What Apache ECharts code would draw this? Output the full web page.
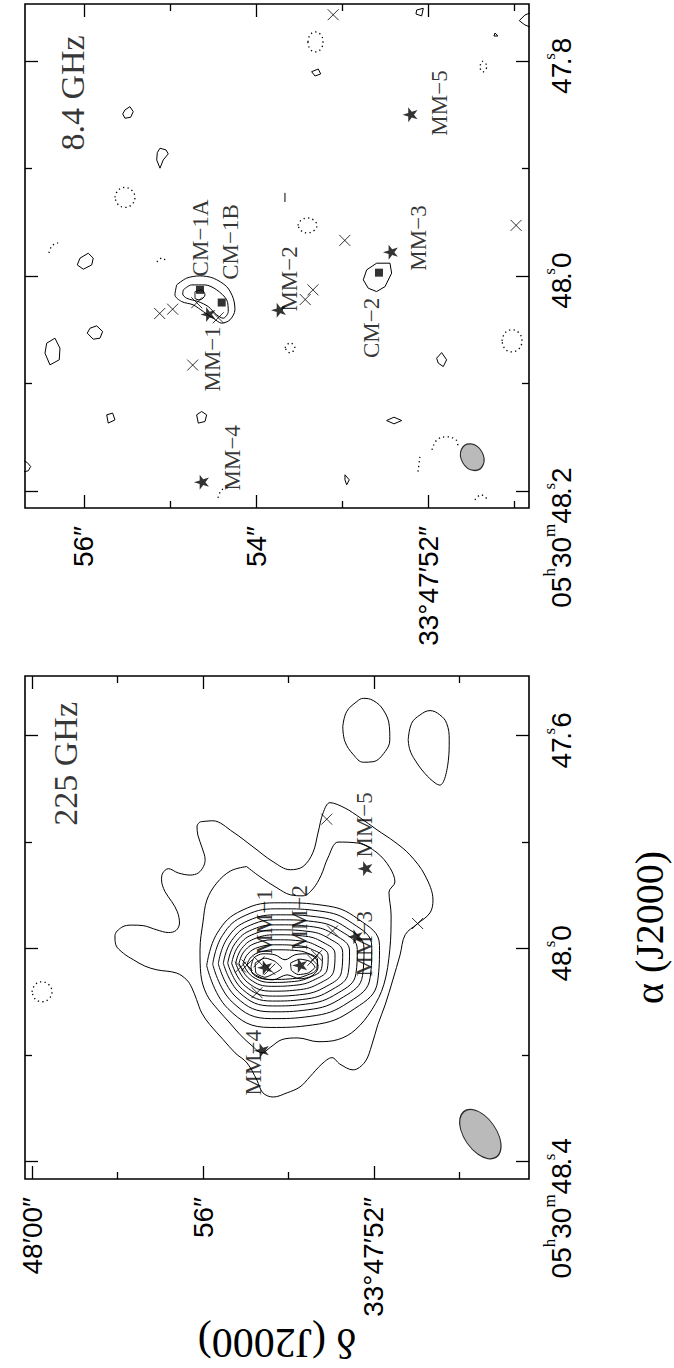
<!DOCTYPE html>
<html>
<head>
<meta charset="utf-8">
<script src="https://cdn.jsdelivr.net/npm/echarts@6/dist/echarts.min.js"></script>
<style>
html, body { margin: 0; padding: 0; background: #fff; }
#chart { width: 674px; height: 1368px; }
</style>
</head>
<body>
<div id="chart"></div>
<script>
// Coordinates: [declination arcsec after 33°47′, right ascension seconds after 05h30m]

// Axis extents of the two maps
const decRange84 = [50.830, 56.685];
const raRange84 = [47.747, 48.216];
const decRange225 = [48.374, 60.164];
const raRange225 = [47.488, 48.433];

// Ticks and tick labels
const decMajor84 = [52, 54, 56];
const decMinor84 = [51, 53, 55];
const decText84 = ['33°47′52″', '54″', '56″'];
const raMajor84 = [47.8, 48.0, 48.2];
const raMinor84 = [47.9, 48.1];
const raText84 = ['47.8', '48.0', '05:30:48.2'];

const decMajor225 = [52, 56, 60];
const decMinor225 = [50, 54, 58];
const decText225 = ['33°47′52″', '56″', '48′00″'];
const raMajor225 = [47.6, 48.0, 48.4];
const raMinor225 = [47.8, 48.2];
const raText225 = ['47.6', '48.0', '05:30:48.4'];

// Sources
const mmNames = ['MM−1', 'MM−2', 'MM−3', 'MM−4', 'MM−5'];
const mmPos = [[54.56, 48.036], [53.74, 48.032], [52.44, 47.978], [54.635, 48.192], [52.212, 47.850]];
const crossPos = [[53.105, 47.757], [55.12, 48.035], [54.97, 48.031], [54.737, 48.083], [54.69, 48.025],
                  [54.44, 48.039], [53.43, 48.022], [53.34, 48.013], [52.97, 47.967], [50.98, 47.953]];
const cmNames = ['CM−1A', 'CM−1B', 'CM−2'];
const cmPos = [[54.652, 48.013], [54.400, 48.0248], [52.573, 47.997]];

// Text annotations [text, dec, ra]
const title84 = ['8.4 GHz', 56.128, 47.8298];
const title225 = ['225 GHz', 59.205, 47.6531];
const notes84 = [['CM−1A', 54.652, 47.9647], ['CM−1B', 54.292, 47.9684], ['MM−1', 54.501, 48.0772],
                 ['MM−2', 53.618, 48.0028], ['MM−3', 52.108, 47.9647], ['MM−4', 54.269, 48.1693],
                 ['MM−5', 51.864, 47.8391], ['CM−2', 52.654, 48.0484]];
const notes225 = [['MM−1', 54.550, 47.9497], ['MM−2', 53.731, 47.9422], ['MM−3', 52.211, 47.9911],
                  ['MM−4', 54.830, 48.2147], ['MM−5', 52.211, 47.7677]];

// Synthesized beams
const beam84 = [51.489, 48.1687];
const beam225 = [49.513, 48.3487];

// 8.4 GHz positive contours (closed)
const cm1Outer = [[54.923,48.0084],[54.807,48.0021],[54.652,48.0000],[54.498,48.0021],[54.342,48.0100],[54.266,48.0208],[54.246,48.0316],[54.304,48.0409],[54.400,48.0440],[54.498,48.0394],[54.614,48.0332],[54.730,48.0270],[54.865,48.0239],[54.943,48.0177]];
const cm1Inner = [[54.846,48.0130],[54.749,48.0084],[54.594,48.0084],[54.458,48.0130],[54.342,48.0223],[54.324,48.0332],[54.382,48.0394],[54.458,48.0363],[54.556,48.0286],[54.672,48.0239],[54.807,48.0208],[54.853,48.0168]];
const cm1Core = [[54.710,48.0146],[54.633,48.0130],[54.594,48.0177],[54.652,48.0223],[54.710,48.0208]];
const cm2Ring = [[52.716,47.9944],[52.600,47.9882],[52.445,47.9882],[52.426,47.9975],[52.503,48.0100],[52.600,48.0146],[52.697,48.0115],[52.755,48.0037]];
const spot84a = [[55.524,47.8456],[55.466,47.8425],[55.427,47.8472],[55.458,47.8524],[55.524,47.8533],[55.550,47.8493]];
const spot84b = [[55.117,47.8812],[55.047,47.8828],[55.021,47.8865],[55.079,47.8921],[55.117,47.8998],[55.155,47.8921],[55.148,47.8853]];
const spot84c = [[56.046,47.9835],[55.950,47.9789],[55.892,47.9835],[55.910,47.9898],[56.008,47.9938],[56.078,47.9898]];
const spot84d = [[55.930,48.0487],[55.852,48.0465],[55.783,48.0518],[55.814,48.0580],[55.892,48.0589],[55.962,48.0533]];
const spot84e = [[56.433,48.0626],[56.337,48.0580],[56.279,48.0673],[56.287,48.0781],[56.395,48.0828],[56.453,48.0719]];
const spot84f = [[53.355,47.8100],[53.278,47.8075],[53.250,47.8121],[53.316,47.8140]];
const spot84h = [[55.736,48.1293],[55.667,48.1277],[55.640,48.1340],[55.718,48.1370]];
const spot84i = [[54.691,48.1293],[54.633,48.1262],[54.575,48.1293],[54.594,48.1355],[54.672,48.1370]];
const spot84l = [[51.903,48.0766],[51.845,48.0714],[51.787,48.0781],[51.826,48.0844],[51.884,48.0812]];
const spot84m = [[52.484,48.1346],[52.399,48.1315],[52.309,48.1346],[52.399,48.1377]];
const spot84n = [[52.968,48.1851],[52.918,48.1898],[52.948,48.1944],[52.968,48.1898]];
const spot84o = [[52.135,47.7526],[52.058,47.7510],[52.077,47.7581],[52.143,47.7563]];
const spot84p = [[51.225,47.7740],[51.191,47.7768],[51.237,47.7768]];
// 8.4 GHz positive contour pieces cut by the frame (open)
const arc84g = [[53.665,47.9228],[53.665,47.9312]];
const arc84j = [[56.697,48.1721],[56.659,48.1737],[56.619,48.1774],[56.647,48.1814],[56.697,48.1823]];
const arc84o = [[50.819,47.7554],[50.877,47.7572],[50.943,47.7625],[50.877,47.7665],[50.819,47.7684]];
// 8.4 GHz negative contours
const neg84a = [[53.398,47.7823],[53.375,47.7758],[53.311,47.7730],[53.247,47.7758],[53.223,47.7823],[53.247,47.7888],[53.311,47.7916],[53.375,47.7888]];
const neg84b = [[55.640,47.9270],[55.605,47.9205],[55.524,47.9177],[55.442,47.9205],[55.408,47.9270],[55.442,47.9335],[55.524,47.9363],[55.605,47.9335]];
const neg84c = [[53.514,47.9530],[53.481,47.9484],[53.404,47.9461],[53.326,47.9484],[53.293,47.9530],[53.326,47.9577],[53.404,47.9600],[53.481,47.9577]];
const neg84d = [[53.665,48.0670],[53.607,48.0623],[53.549,48.0670],[53.607,48.0716]];
const neg84e = [[51.144,48.0605],[51.109,48.0530],[51.028,48.0502],[50.947,48.0530],[50.912,48.0605],[50.947,48.0679],[51.028,48.0707],[51.109,48.0679]];
const neg84f = [[51.376,47.8000],[51.318,47.8047],[51.365,47.8102],[51.400,47.8056]];
const negArc84a = [[56.407,47.9786],[56.370,47.9720],[56.300,47.9693]];
const negArc84b = [[55.152,47.9870],[55.094,47.9833],[55.036,47.9870]];
const negArc84c = [[54.443,48.2065],[54.397,48.1991],[54.304,48.1972]];
const negArc84d = [[51.957,48.1619],[51.899,48.1526],[51.783,48.1498],[51.678,48.1526],[51.655,48.1591]];
const negArc84e = [[52.097,48.1684],[52.120,48.1824]];
const negArc84f = [[51.458,48.2084],[51.388,48.2037],[51.307,48.2084]];

// 225 GHz contours, lowest level first
const lev1 = [[56.07,47.762],[55.77,47.760],[55.30,47.781],[54.83,47.809],[54.36,47.837],[53.96,47.852],[53.66,47.846],[53.43,47.820],[53.31,47.783],[53.19,47.745],[53.03,47.726],[52.68,47.736],[52.33,47.754],[51.93,47.777],[51.51,47.800],[51.16,47.824],[50.81,47.862],[50.62,47.909],[50.69,47.933],[50.99,47.954],[51.27,47.974],[51.39,48.012],[51.56,48.059],[51.74,48.106],[51.91,48.143],[52.05,48.181],[52.21,48.213],[52.49,48.228],[52.80,48.217],[52.98,48.205],[53.22,48.217],[53.50,48.241],[53.73,48.260],[54.03,48.271],[54.36,48.279],[54.60,48.271],[54.74,48.247],[54.97,48.215],[55.25,48.196],[55.53,48.171],[55.84,48.143],[56.03,48.121],[56.15,48.096],[56.26,48.074],[56.38,48.059],[56.62,48.046],[57.08,48.040],[57.36,48.033],[57.63,48.021],[57.86,48.009],[58.04,47.993],[58.06,47.976],[57.90,47.960],[57.67,47.956],[57.40,47.957],[57.08,47.965],[56.81,47.970],[56.63,47.966],[56.55,47.952],[56.60,47.931],[56.73,47.912],[56.89,47.893],[56.97,47.871],[56.94,47.858],[56.81,47.850],[56.58,47.858],[56.30,47.862],[56.11,47.858],[55.99,47.846],[55.95,47.833],[56.02,47.811],[56.12,47.787],[56.14,47.770]];
const lev2 = [[54.98,47.846],[54.67,47.865],[54.27,47.886],[53.96,47.899],[53.66,47.901],[53.43,47.888],[53.24,47.863],[53.08,47.830],[52.84,47.800],[52.37,47.802],[51.93,47.820],[51.63,47.848],[51.51,47.875],[51.65,47.894],[51.60,47.937],[51.63,48.002],[51.77,48.068],[52.05,48.115],[52.44,48.153],[52.84,48.171],[53.31,48.175],[53.78,48.168],[54.15,48.171],[54.43,48.186],[54.62,48.196],[54.85,48.183],[55.13,48.162],[55.37,48.140],[55.65,48.115],[55.91,48.087],[56.05,48.049],[56.07,48.002],[56.00,47.950],[55.91,47.909],[55.68,47.877],[55.35,47.854]];
const lev3 = [[55.913,48.0324],[55.666,47.9709],[55.088,47.9283],[54.181,47.9141],[53.191,47.9188],[52.366,47.9449],[51.871,47.9945],[51.913,48.0608],[52.449,48.1128],[53.439,48.1436],[54.428,48.1483],[55.418,48.1128]];
const lev4 = [[55.773,48.0296],[55.545,47.9754],[55.014,47.9379],[54.178,47.9254],[53.267,47.9296],[52.508,47.9525],[52.052,47.9963],[52.090,48.0546],[52.584,48.1005],[53.495,48.1275],[54.406,48.1317],[55.317,48.1005]];
const lev5 = [[55.642,48.0287],[55.433,47.9809],[54.946,47.9477],[54.181,47.9367],[53.347,47.9404],[52.651,47.9606],[52.234,47.9993],[52.268,48.0508],[52.720,48.0913],[53.555,48.1152],[54.390,48.1189],[55.225,48.0913]];
const lev6 = [[55.525,48.0278],[55.333,47.9853],[54.885,47.9559],[54.182,47.9461],[53.414,47.9494],[52.775,47.9673],[52.391,48.0017],[52.423,48.0474],[52.839,48.0834],[53.606,48.1046],[54.374,48.1079],[55.141,48.0834]];
const lev7 = [[55.422,48.0278],[55.248,47.9902],[54.840,47.9642],[54.201,47.9555],[53.503,47.9584],[52.921,47.9743],[52.572,48.0047],[52.601,48.0452],[52.979,48.0770],[53.677,48.0958],[54.375,48.0987],[55.073,48.0770]];
const lev8 = [[55.329,48.0278],[55.170,47.9951],[54.799,47.9724],[54.216,47.9649],[53.580,47.9674],[53.050,47.9813],[52.732,48.0077],[52.758,48.0429],[53.103,48.0706],[53.739,48.0869],[54.375,48.0894],[55.011,48.0706]];
const lev9 = [[55.235,48.0277],[55.093,47.9999],[54.761,47.9806],[54.240,47.9742],[53.671,47.9763],[53.197,47.9881],[52.912,48.0106],[52.936,48.0405],[53.244,48.0641],[53.813,48.0780],[54.382,48.0801],[54.951,48.0641]];
const lev10 = [[55.158,48.0278],[55.030,48.0048],[54.732,47.9889],[54.264,47.9836],[53.753,47.9854],[53.327,47.9951],[53.072,48.0136],[53.093,48.0383],[53.370,48.0578],[53.881,48.0693],[54.392,48.0710],[54.903,48.0578]];
const lev11 = [[55.064,48.0287],[54.950,48.0101],[54.685,47.9973],[54.268,47.9930],[53.813,47.9944],[53.434,48.0023],[53.207,48.0173],[53.226,48.0373],[53.472,48.0530],[53.927,48.0623],[54.382,48.0637],[54.837,48.0530]];
const lev12 = [[54.971,48.0306],[54.870,48.0159],[54.634,48.0058],[54.264,48.0024],[53.860,48.0035],[53.523,48.0097],[53.321,48.0215],[53.338,48.0373],[53.556,48.0497],[53.961,48.0570],[54.365,48.0581],[54.769,48.0497]];
const lev13 = [[54.877,48.0344],[54.807,48.0175],[54.596,48.0099],[54.316,48.0118],[54.082,48.0212],[53.848,48.0118],[53.567,48.0099],[53.357,48.0193],[53.310,48.0362],[53.450,48.0512],[53.731,48.0569],[54.035,48.0494],[54.362,48.0588],[54.690,48.0550],[54.854,48.0456]];
const peakMM1 = [[54.78,48.027],[54.55,48.018],[54.32,48.024],[54.16,48.037],[54.32,48.046],[54.55,48.054],[54.76,48.046]];
const peakMM2 = [[53.95,48.027],[53.73,48.020],[53.50,48.024],[53.38,48.035],[53.54,48.046],[53.77,48.049],[53.93,48.041]];
const islandA = [[52.73,47.583],[52.64,47.555],[52.40,47.536],[52.25,47.530],[52.02,47.534],[51.78,47.552],[51.64,47.583],[51.63,47.608],[51.74,47.630],[52.02,47.649],[52.25,47.650],[52.48,47.636],[52.68,47.611]];
const islandB = [[51.20,47.608],[51.12,47.577],[50.92,47.561],[50.69,47.553],[50.46,47.561],[50.30,47.577],[50.24,47.608],[50.26,47.646],[50.46,47.693],[50.57,47.689],[50.81,47.671],[51.04,47.646],[51.16,47.627]];
const neg225 = [[60.000,48.0813],[59.930,48.0681],[59.766,48.0625],[59.603,48.0681],[59.532,48.0813],[59.603,48.0944],[59.766,48.1000],[59.930,48.0944]];

// ---------- helpers ----------
const FONT_SANS = '"Liberation Sans", Arial, sans-serif';
const FONT_SERIF = '"Liberation Serif", "Times New Roman", serif';
const STAR = 'path://M50,2 L61.2,36.2 L97.6,36.2 L68.2,57.4 L79.4,91.8 L50,70.6 L20.6,91.8 L31.8,57.4 L2.4,36.2 L38.8,36.2 Z';
const CROSS = 'path://M0,0 L10,10 M10,0 L0,10';

const measureCtx = document.createElement('canvas').getContext('2d');
function textWidth(t, size, family) {
  measureCtx.font = size + 'px ' + family;
  return measureCtx.measureText(t).width;
}

// Sexagesimal RA labels: superscript unit letters, the seconds mark sitting over the point,
// and the tick placed near the seconds mark.
function raLabelSet(values, texts) {
  const rich = {
    n: { fontFamily: FONT_SANS, fontSize: 28, lineHeight: 34, verticalAlign: 'bottom', color: '#000' },
    d: { fontFamily: FONT_SANS, fontSize: 28, lineHeight: 34, verticalAlign: 'bottom', width: 3, color: '#000' },
    u: { fontFamily: FONT_SERIF, fontSize: 17, lineHeight: 17, verticalAlign: 'top', color: '#000' }
  };
  const out = [];
  texts.forEach(function (lab, i) {
    const parts = lab.split(':');
    const last = parts[parts.length - 1].split('.');
    const units = ['h', 'm'];
    let s = '', lead = 0;
    for (let k = 0; k < parts.length - 1; k++) {
      s += '{n|' + parts[k] + '}{u|' + units[k] + '}';
      lead += textWidth(parts[k], 28, FONT_SANS) + textWidth(units[k], 17, FONT_SERIF);
    }
    s += '{n|' + last[0] + '}{d|.}{u|s}{n|' + last[1] + '}';
    lead += textWidth(last[0], 28, FONT_SANS);
    const pad = Math.max(0, lead - textWidth(last[1], 28, FONT_SANS) - 6);
    rich['p' + i] = { width: pad, fontSize: 28, lineHeight: 34 };
    s += '{p' + i + '| }';
    out.push(s);
  });
  return {
    rich: rich,
    formatter: function (v) {
      const i = values.findIndex(function (t) { return Math.abs(t - v) < 1e-6; });
      return i >= 0 ? out[i] : '';
    }
  };
}

function tick(vals, len) {
  return { show: true, inside: true, length: len, customValues: vals, lineStyle: { color: '#000', width: 1.3 } };
}

function panelAxes(grid, decRange, raRange, decMajor, decMinor, raMajor, raMinor, decText, raText, withNames) {
  const xBase = { gridIndex: grid, type: 'value', min: decRange[0], max: decRange[1], inverse: true,
                  axisLine: { show: false, onZero: false }, splitLine: { show: false }, axisLabel: { show: false } };
  const yBase = { gridIndex: grid, type: 'value', min: raRange[0], max: raRange[1], inverse: true,
                  axisLine: { show: false, onZero: false }, splitLine: { show: false }, axisLabel: { show: false } };
  const ra = raLabelSet(raMajor, raText);
  const xs = [
    Object.assign({}, xBase, {
      position: 'bottom', axisTick: tick(decMajor, 13),
      axisLabel: {
        show: true, customValues: decMajor, rotate: 90, margin: 18,
        fontFamily: FONT_SANS, fontSize: 28, color: '#000',
        formatter: function (v) {
          const i = decMajor.findIndex(function (t) { return Math.abs(t - v) < 1e-6; });
          return i >= 0 ? decText[i] : '';
        }
      }
    }),
    Object.assign({}, xBase, { position: 'bottom', axisTick: tick(decMinor, 7) }),
    Object.assign({}, xBase, { position: 'top', axisTick: tick(decMajor, 13) }),
    Object.assign({}, xBase, { position: 'top', axisTick: tick(decMinor, 7) })
  ];
  const ys = [
    Object.assign({}, yBase, {
      position: 'right', axisTick: tick(raMajor, 13),
      axisLabel: { show: true, customValues: raMajor, rotate: 90, margin: 12, rich: ra.rich, formatter: ra.formatter }
    }),
    Object.assign({}, yBase, { position: 'right', axisTick: tick(raMinor, 7) }),
    Object.assign({}, yBase, { position: 'left', axisTick: tick(raMajor, 13) }),
    Object.assign({}, yBase, { position: 'left', axisTick: tick(raMinor, 7) })
  ];
  if (withNames) {
    Object.assign(xs[0], {
      name: 'δ (J2000)', nameLocation: 'middle', nameRotate: 180, nameGap: 143, nameMoveOverlap: false,
      nameTextStyle: { fontFamily: FONT_SERIF, fontSize: 42, lineHeight: 42, color: '#000' }
    });
    Object.assign(ys[0], {
      name: 'α (J2000)', nameLocation: 'middle', nameRotate: 90, nameGap: 100, nameMoveOverlap: false,
      nameTextStyle: { fontFamily: FONT_SERIF, fontSize: 40, lineHeight: 40, color: '#000' }
    });
  }
  return { xs: xs, ys: ys };
}

function closeRing(p) { return p.concat([p[0]]); }

function contour(pts, axis, opts) {
  opts = opts || {};
  return {
    type: 'line', xAxisIndex: axis, yAxisIndex: axis,
    data: opts.open ? pts : closeRing(pts),
    showSymbol: false, symbol: 'none', smooth: opts.smooth || false, silent: true, z: 2,
    lineStyle: { color: '#000', width: opts.dotted ? 1.3 : 1, type: opts.dotted ? [1.3, 3.2] : 'solid' }
  };
}

function marks(axis, hasSquares) {
  const s = [
    { type: 'scatter', xAxisIndex: axis, yAxisIndex: axis, data: crossPos, symbol: CROSS, symbolSize: 11,
      itemStyle: { color: 'rgba(0,0,0,0)', borderColor: '#000', borderWidth: 1 }, silent: true, z: 4 },
    { type: 'scatter', xAxisIndex: axis, yAxisIndex: axis,
      data: mmPos.map(function (p, i) { return { name: mmNames[i], value: p }; }),
      symbol: STAR, symbolSize: 15, symbolRotate: 90, itemStyle: { color: '#000' }, silent: true, z: 5 }
  ];
  if (hasSquares) {
    s.push({ type: 'scatter', xAxisIndex: axis, yAxisIndex: axis,
      data: cmPos.map(function (p, i) { return { name: cmNames[i], value: p }; }),
      symbol: 'rect', symbolSize: 8, itemStyle: { color: '#000' }, silent: true, z: 5 });
  }
  return s;
}

function notes(axis, list, size) {
  return {
    type: 'scatter', xAxisIndex: axis, yAxisIndex: axis, symbolSize: 1, silent: true, z: 6,
    itemStyle: { color: 'rgba(0,0,0,0)' },
    data: list.map(function (n) { return { name: n[0], value: [n[1], n[2]] }; }),
    label: { show: true, position: 'inside', formatter: '{b}', rotate: 90,
             fontFamily: FONT_SERIF, fontSize: size, color: '#000' }
  };
}

function beam(axis, pos, size, rot) {
  return { type: 'scatter', xAxisIndex: axis, yAxisIndex: axis, data: [pos], symbol: 'circle',
           symbolSize: size, symbolRotate: rot, silent: true, z: 3,
           itemStyle: { color: '#a9a9a9', borderColor: '#000', borderWidth: 1.2 } };
}

// ---------- option ----------
const axes84 = panelAxes(0, decRange84, raRange84, decMajor84, decMinor84, raMajor84, raMinor84, decText84, raText84, false);
const axes225 = panelAxes(1, decRange225, raRange225, decMajor225, decMinor225, raMajor225, raMinor225, decText225, raText225, true);

const T = 0;  // 8.4 GHz axes index
const B = 4;  // 225 GHz axes index

const series = [];
[cm1Outer, cm1Inner, cm1Core].forEach(function (c) { series.push(contour(c, T, { smooth: 0.3 })); });
[cm2Ring, spot84a, spot84b, spot84c, spot84d, spot84e, spot84f, spot84h, spot84i, spot84l, spot84m, spot84n, spot84o, spot84p]
  .forEach(function (c) { series.push(contour(c, T)); });
[arc84g, arc84j, arc84o].forEach(function (c) { series.push(contour(c, T, { open: true })); });
[neg84a, neg84b, neg84c, neg84d, neg84e, neg84f].forEach(function (c) { series.push(contour(c, T, { dotted: true, smooth: 0.4 })); });
[negArc84a, negArc84b, negArc84c, negArc84d, negArc84e, negArc84f].forEach(function (c) { series.push(contour(c, T, { dotted: true, open: true, smooth: 0.4 })); });
series.push(beam(T, beam84, [22, 28], 30));
marks(T, true).forEach(function (s) { series.push(s); });
series.push(notes(T, notes84, 23));
series.push(notes(T, [title84], 34));

[lev1, lev2].forEach(function (c) { series.push(contour(c, B, { smooth: 0.35 })); });
[lev3, lev4, lev5, lev6, lev7, lev8, lev9, lev10, lev11, lev12].forEach(function (c) { series.push(contour(c, B, { smooth: 0.45 })); });
series.push(contour(lev13, B, { smooth: 0.3 }));
[peakMM1, peakMM2].forEach(function (c) { series.push(contour(c, B, { smooth: 0.2 })); });
[islandA, islandB].forEach(function (c) { series.push(contour(c, B, { smooth: 0.4 })); });
series.push(contour(neg225, B, { dotted: true, smooth: 0.4 }));
series.push(beam(B, beam225, [32, 56], 35));
marks(B, false).forEach(function (s) { series.push(s); });
series.push(notes(B, notes225, 23));
series.push(notes(B, [title225], 34));

const option = {
  animation: false,
  backgroundColor: '#fff',
  grid: [
    { left: 25, top: 4, width: 504, height: 504, show: true, borderColor: '#000', borderWidth: 1.6,
      backgroundColor: 'transparent', containLabel: false, outerBoundsMode: 'none' },
    { left: 25, top: 676, width: 504, height: 503, show: true, borderColor: '#000', borderWidth: 1.6,
      backgroundColor: 'transparent', containLabel: false, outerBoundsMode: 'none' }
  ],
  xAxis: axes84.xs.concat(axes225.xs),
  yAxis: axes84.ys.concat(axes225.ys),
  series: series
};

const chart = echarts.init(document.getElementById('chart'), null, { renderer: 'svg' });
chart.setOption(option);
</script>
</body>
</html>
